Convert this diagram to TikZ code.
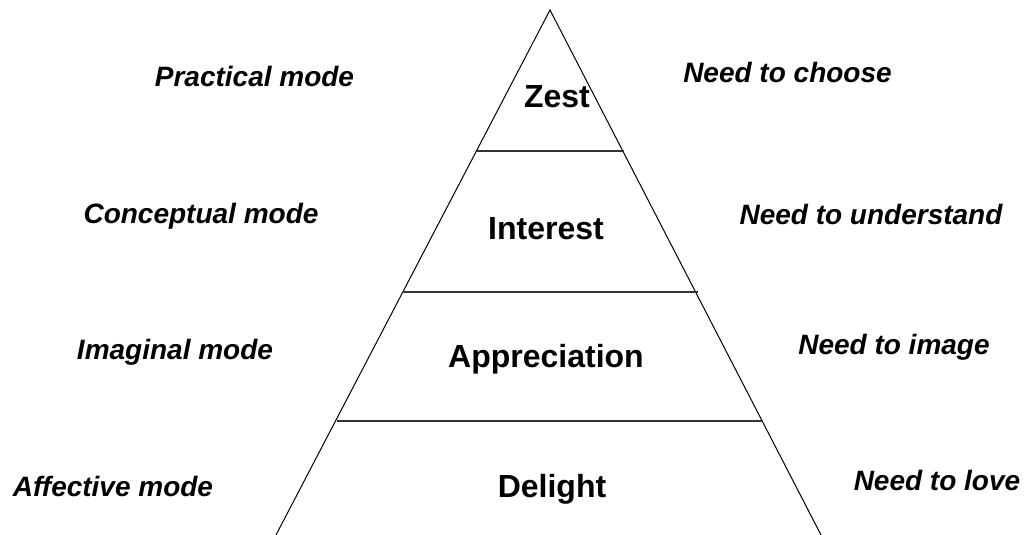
\documentclass[tikz,border=0pt]{standalone}
\usepackage{fontspec}
\setmainfont{Liberation Sans}
\begin{document}
\begin{tikzpicture}[x=1pt,y=-1pt,
  side/.style={line width=1pt,black},
  layer/.style={line width=1.4pt,black!80},
  level/.style={anchor=base,inner sep=0pt,font=\fontsize{32}{38}\selectfont\bfseries},
  mode/.style={anchor=base,inner sep=0pt,font=\fontsize{28}{34}\selectfont\bfseries\itshape}]
\useasboundingbox (0,0) rectangle (1026,535);
% triangle
\coordinate (apex) at (550,10);
\coordinate (bl) at (276,535);
\coordinate (br) at (821,535);
\draw[side] (bl) -- (apex) -- (br);
% layer lines
\coordinate (l1a) at (477,151); \coordinate (l1b) at (624,151);
\coordinate (l2a) at (403,292); \coordinate (l2b) at (698,292);
\coordinate (l3a) at (337,421); \coordinate (l3b) at (763,421);
\draw[layer] (l1a) -- (l1b);
\draw[layer] (l2a) -- (l2b);
\draw[layer] (l3a) -- (l3b);
% level labels
\node[level] (zest) at (557,107) {Zest};
\node[level] (interest) at (546,239) {Interest};
\node[level] (appr) at (546,367) {Appreciation};
\node[level] (delight) at (552,497) {Delight};
% modes
\node[mode] (practical) at (254.5,86) {Practical mode};
\node[mode] (conceptual) at (201,223) {Conceptual mode};
\node[mode] (imaginal) at (175,359) {Imaginal mode};
\node[mode] (affective) at (113,496) {Affective mode};
% needs
\node[mode] (choose) at (787.5,82) {Need to choose};
\node[mode] (understand) at (871,224) {Need to understand};
\node[mode] (image) at (894,354) {Need to image};
\node[mode] (love) at (937,490) {Need to love};
\end{tikzpicture}
\end{document}
